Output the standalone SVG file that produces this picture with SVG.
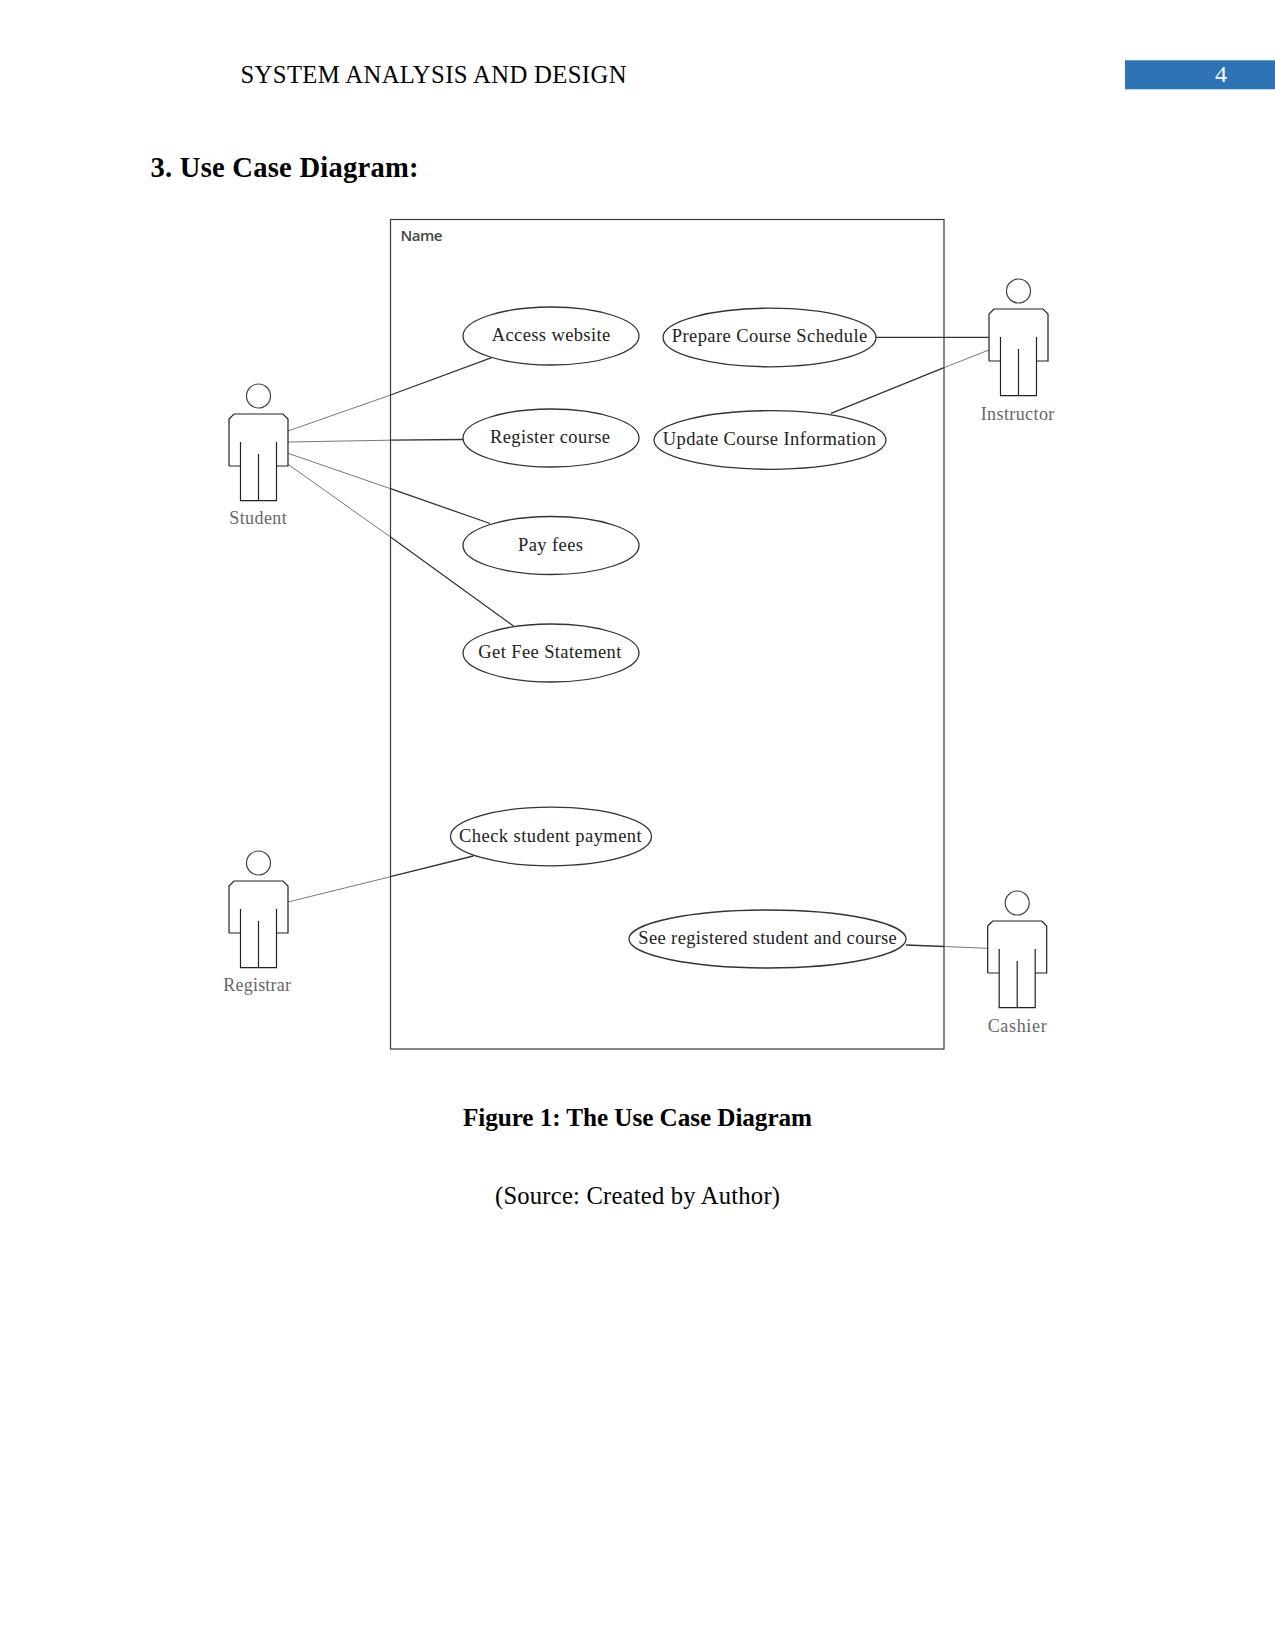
<svg xmlns="http://www.w3.org/2000/svg" xmlns:xlink="http://www.w3.org/1999/xlink" width="1275" height="1651" viewBox="0 0 1275 1651">
<style>
text{font-family:"Liberation Serif","Times New Roman",serif;fill:#000}
.uc{font-size:18.5px;fill:#222}
.al{font-size:18px;fill:#666}
.ell{fill:#fff;stroke:#333;stroke-width:1.3}
.actor{fill:none;stroke:#222;stroke-width:1.2}
.far{stroke:#555;stroke-width:.8;fill:none}
.near{stroke:#333;stroke-width:1.3;fill:none}
</style>
<defs>
<g id="actor" class="actor">
<circle cx="29.5" cy="-18" r="12" stroke="#444"/>
<path d="M0 52V5L5 0H54L59 5V52H47.5M47.5 28V86.7H11.5V28M11.5 52H0"/>
<path d="M29.5 40V86.7"/>
</g>
</defs>
<rect width="1275" height="1651" fill="#fff"/>
<g id="page">
<text x="240.5" y="83.3" font-size="24.7" textLength="386">SYSTEM ANALYSIS AND DESIGN</text>
<rect x="1125" y="60.3" width="150" height="29" fill="#2e74b5"/>
<text x="1221" y="82" font-size="24" text-anchor="middle" style="fill:#fff">4</text>
<text x="150.5" y="177.3" font-size="28.6" font-weight="700" textLength="268">3. Use Case Diagram:</text>
<text x="463" y="1126" font-size="25.2" font-weight="700" textLength="349">Figure 1: The Use Case Diagram</text>
<text x="495" y="1204" font-size="24.6" textLength="285">(Source: Created by Author)</text>
</g>
<g id="frame">
<rect x="390.5" y="219.5" width="553.5" height="829.5" fill="none" stroke="#3a3a3a" stroke-width="1.2"/>
<text x="400.5" y="241.3" textLength="42" style="font-family:'Open Sans','Liberation Sans',sans-serif;font-size:15px;font-weight:600;fill:#444">Name</text>
</g>
<g id="connectors">
<path class="far" d="M288 431L390.5 395M288 442L390.5 440.2M288 453.3L390.5 488.7M288 464.3L390.5 537M288 902L390.5 876.7M944 367.7L989 350M944 946.5L988 948.3"/>
<path class="near" d="M390.5 395L491.7 357.7M390.5 440.2L463 439.5M390.5 488.7L490 523.5M390.5 537L513.5 626M390.5 876.7L473.3 856M876 337.3H989M831 413.3L944 367.7M906 945L944 946.5"/>
</g>
<g id="uc-access"><ellipse class="ell" cx="551" cy="336" rx="88" ry="29"/><text class="uc" x="491.7" y="340.7" textLength="118.5">Access website</text></g>
<g id="uc-register"><ellipse class="ell" cx="551" cy="438" rx="88" ry="29"/><text class="uc" x="490" y="442.7" textLength="120">Register course</text></g>
<g id="uc-pay"><ellipse class="ell" cx="551" cy="545.5" rx="88" ry="29"/><text class="uc" x="518" y="551" textLength="65">Pay fees</text></g>
<g id="uc-fee"><ellipse class="ell" cx="551" cy="653" rx="88" ry="29"/><text class="uc" x="478.3" y="658.3" textLength="143">Get Fee Statement</text></g>
<g id="uc-prepare"><ellipse class="ell" cx="769.5" cy="337.5" rx="106.5" ry="29.3"/><text class="uc" x="671.7" y="342.3" textLength="195.5">Prepare Course Schedule</text></g>
<g id="uc-update"><ellipse class="ell" cx="770" cy="440" rx="116" ry="29.3"/><text class="uc" x="662.7" y="445" textLength="213.3">Update Course Information</text></g>
<g id="uc-check"><ellipse class="ell" cx="551" cy="836.5" rx="100.5" ry="29.3"/><text class="uc" x="459" y="842.3" textLength="182.7">Check student payment</text></g>
<g id="uc-see"><ellipse class="ell" cx="767.5" cy="939" rx="138.5" ry="29"/><text class="uc" x="638.3" y="944.3" textLength="258.4">See registered student and course</text></g>
<g id="actor-student"><use href="#actor" xlink:href="#actor" x="229" y="414"/><text class="al" x="229.3" y="524.3" textLength="57.4">Student</text></g>
<g id="actor-instructor"><use href="#actor" xlink:href="#actor" x="989" y="309"/><text class="al" x="980.7" y="420" textLength="73.6">Instructor</text></g>
<g id="actor-registrar"><use href="#actor" xlink:href="#actor" x="229" y="881"/><text class="al" x="223.3" y="991" textLength="67.7">Registrar</text></g>
<g id="actor-cashier"><use href="#actor" xlink:href="#actor" x="987.7" y="921"/><text class="al" x="987.7" y="1031.7" textLength="59">Cashier</text></g>
</svg>
